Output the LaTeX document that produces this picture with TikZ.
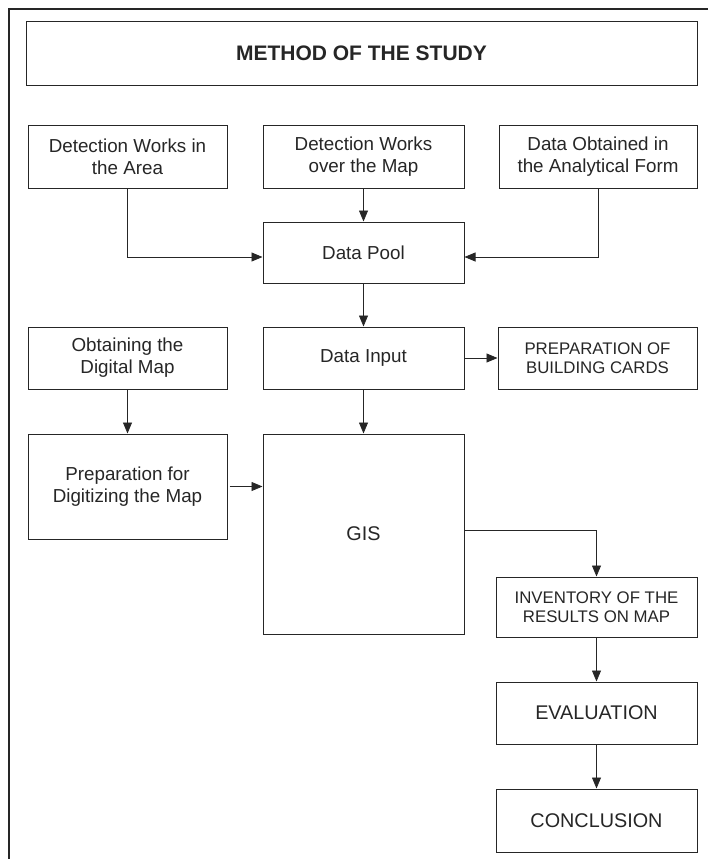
\documentclass[tikz,border=0pt]{standalone}
\usepackage{fontspec}
\setmainfont{Liberation Sans}
\usetikzlibrary{arrows.meta}

\begin{document}
\begin{tikzpicture}[x=1pt, y=-1pt,
    box/.style={draw=black!85, line width=1pt, align=center, inner sep=0pt, text=black!85,
                font=\fontsize{18.8}{22}\selectfont},
    capsbox/.style={box, font=\fontsize{16.8}{19}\selectfont},
    bigbox/.style={box, font=\fontsize{19.8}{23}\selectfont},
    arr/.style={draw=black!85, line width=0.8pt, -{Triangle[length=11pt,width=9pt]}}]
      \useasboundingbox (0,0) rectangle (708,859);
      \draw[line width=1.4pt, black!85] (9,859) -- (9,9) -- (708,9);
      \node[name=title, box, minimum width=671, minimum height=63, font=\fontsize{21}{24}\selectfont\bfseries] at (361.5,53.5) {METHOD OF THE STUDY};
      \node[name=detArea, box, minimum width=199, minimum height=63] at (127.5,156.5) {Detection Works in\\the Area};
      \node[name=detMap, box, minimum width=201, minimum height=63] at (363.5,156.5) {Detection Works\\over the Map};
      \node[name=analytic, box, minimum width=198, minimum height=63] at (598,156.5) {Data Obtained in\\the Analytical Form};
      \node[name=pool, box, minimum width=201, minimum height=61] at (363.5,252.5) {Data Pool};
      \node[name=digMap, box, minimum width=199, minimum height=62] at (127.5,358) {Obtaining the\\Digital Map};
      \node[name=input, box, minimum width=201, minimum height=62] at (363.5,358) {Data Input};
      \node[name=cards, capsbox, minimum width=199, minimum height=62] at (597.5,358) {PREPARATION OF\\BUILDING CARDS};
      \node[name=prepDig, box, minimum width=199, minimum height=105] at (127.5,486.5) {Preparation for\\Digitizing the Map};
      \node[name=gis, bigbox, minimum width=201, minimum height=200] at (363.5,534) {GIS};
      \node[name=inventory, capsbox, minimum width=201, minimum height=60] at (596.5,607) {INVENTORY OF THE\\RESULTS ON MAP};
      \node[name=evaluation, bigbox, minimum width=201, minimum height=62] at (596.5,713) {EVALUATION};
      \node[name=conclusion, bigbox, minimum width=201, minimum height=63] at (596.5,820.5) {CONCLUSION};
      \draw[arr] (detArea.south) |- ([yshift=-4.5pt]pool.west);
      \draw[arr] (analytic.south) |- ([yshift=-4.5pt]pool.east);
      \draw[arr] (detMap.south) -- (pool.north);
      \draw[arr] (pool.south) -- (input.north);
      \draw[arr] (input.east) -- (cards.west);
      \draw[arr] (digMap.south) -- (prepDig.north);
      \draw[arr] (input.south) -- (gis.north);
      \draw[arr] ([xshift=2pt]prepDig.east) -- (prepDig.east -| gis.west);
      \draw[arr] ([yshift=4pt]gis.east) -| (inventory.north);
      \draw[arr] (inventory.south) -- (evaluation.north);
      \draw[arr] (evaluation.south) -- (conclusion.north);
\end{tikzpicture}
\end{document}
